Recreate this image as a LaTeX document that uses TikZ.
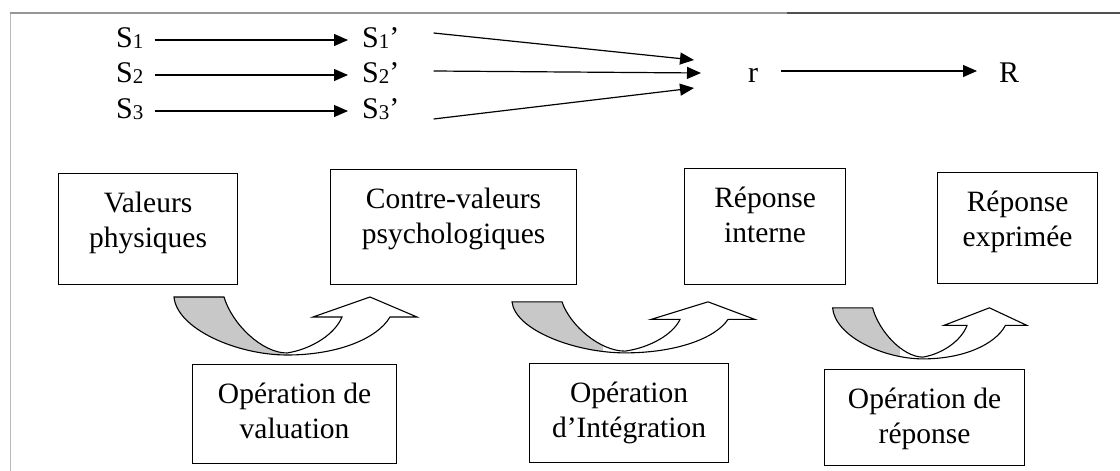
\documentclass[tikz,border=0pt]{standalone}
\usepackage{fontspec}
\setmainfont{Liberation Serif}
\usetikzlibrary{arrows.meta}

\definecolor{bandgrey}{RGB}{200,200,200}
\definecolor{frameA}{RGB}{150,150,150}
\definecolor{frameB}{RGB}{80,80,80}
\definecolor{frameL}{RGB}{185,185,185}

% text block of a box: first baseline 39pt below the top edge
\newcommand\boxtxt[3]{\parbox[t][#2][t]{#1}{\centering\rule{0pt}{39pt}#3}}
% small index digit after S
\newcommand\idx[1]{\raisebox{-1.5pt}{\fontsize{21}{21}\selectfont #1}}

\tikzset{
  pics/curvedup/.style={code={
    \begin{scope}
      \clip (-150,-70) rectangle (#1,10);
      \fill[bandgrey] (-113,-57) -- (-63,-57) .. controls (-55,-30) and (-25,-1) .. (0,-1)
        -- (0,1) .. controls (-50,1) and (-110,-25) .. (-113,-57) -- cycle;
    \end{scope}
    \draw[line width=1.1pt, line join=miter]
      (-113,-57) -- (-63,-57) .. controls (-55,-30) and (-25,-1) .. (0,-1)
      .. controls (25,-5) and (48,-20) .. (55,-37) -- (26,-37) -- (83,-57)
      -- (130,-37) -- (103,-37) .. controls (90,-15) and (50,1) .. (0,1)
      .. controls (-50,1) and (-110,-25) .. (-113,-57) -- cycle;
  }}
}

\begin{document}
\begin{tikzpicture}[x=1pt, y=-1pt,
  box/.style={draw, line width=1.1pt, inner sep=0pt, anchor=north west,
    font=\fontsize{29.5}{35}\selectfont},
  lbl/.style={inner sep=0pt, anchor=base west, font=\fontsize{30}{32}\selectfont},
  arr/.style={line width=1.2pt, -{Triangle[length=14pt,width=12pt]}}]

\useasboundingbox (0,0) rectangle (1120,471);

% frame
\draw[frameL, line width=1.6pt] (10.5,471) -- (10.5,13);
\draw[frameA, line width=1.4pt] (10,13) -- (787,13);
\draw[frameB, line width=1.4pt] (787,13) -- (1120,13);

% stimulus chain
\node[lbl] (s1) at (116,47) {S\idx{1}};
\node[lbl] (s2) at (116,82) {S\idx{2}};
\node[lbl] (s3) at (116,118) {S\idx{3}};
\node[lbl] (t1) at (362,47) {S\idx{1}’};
\node[lbl] (t2) at (362,82) {S\idx{2}’};
\node[lbl] (t3) at (362,118) {S\idx{3}’};
\node[lbl] (r) at (748,82) {r};
\node[lbl] (R) at (999,82) {R};

\draw[arr] ([shift={(11pt,7pt)}]s1.base east) -- ([shift={(-14pt,7pt)}]t1.base west);
\draw[arr] ([shift={(11pt,7pt)}]s2.base east) -- ([shift={(-14pt,7pt)}]t2.base west);
\draw[arr] ([shift={(11pt,7pt)}]s3.base east) -- ([shift={(-14pt,7pt)}]t3.base west);

\draw[arr] ([shift={(34pt,14pt)}]t1.base east) -- ([shift={(-54pt,22pt)}]r.base west);
\draw[arr] ([shift={(34pt,11pt)}]t2.base east) -- ([shift={(-47pt,9pt)}]r.base west);
\draw[arr] ([shift={(34pt,-1pt)}]t3.base east) -- ([shift={(-54pt,-6pt)}]r.base west);
\draw[arr] ([shift={(23pt,11pt)}]r.base east) -- ([shift={(-22pt,11pt)}]R.base west);

% value boxes
\node[box] (vp) at (58,173) {\boxtxt{179pt}{111pt}{Valeurs\\physiques}};
\node[box] (cv) at (330,169) {\boxtxt{246pt}{115pt}{Contre-valeurs\\psychologiques}};
\node[box] (ri) at (684,168) {\boxtxt{161pt}{116pt}{Réponse\\interne}};
\node[box] (re) at (937,172) {\boxtxt{160pt}{111pt}{Réponse\\exprimée}};

% operation boxes
\node[box] (ov) at (192,364) {\boxtxt{204pt}{99pt}{Opération de\\valuation}};
\node[box] (oi) at (529,363) {\boxtxt{199pt}{99pt}{Opération\\d’Intégration}};
\node[box] (or) at (824,369) {\boxtxt{200pt}{96pt}{Opération de\\réponse}};

% curved operation arrows
\pic at (287,354) {curvedup=-5};
\pic[yscale=0.88] at (625,352) {curvedup=-22};
\pic[xscale=0.8, yscale=0.88] at (923,358) {curvedup=-29};

\end{tikzpicture}
\end{document}
